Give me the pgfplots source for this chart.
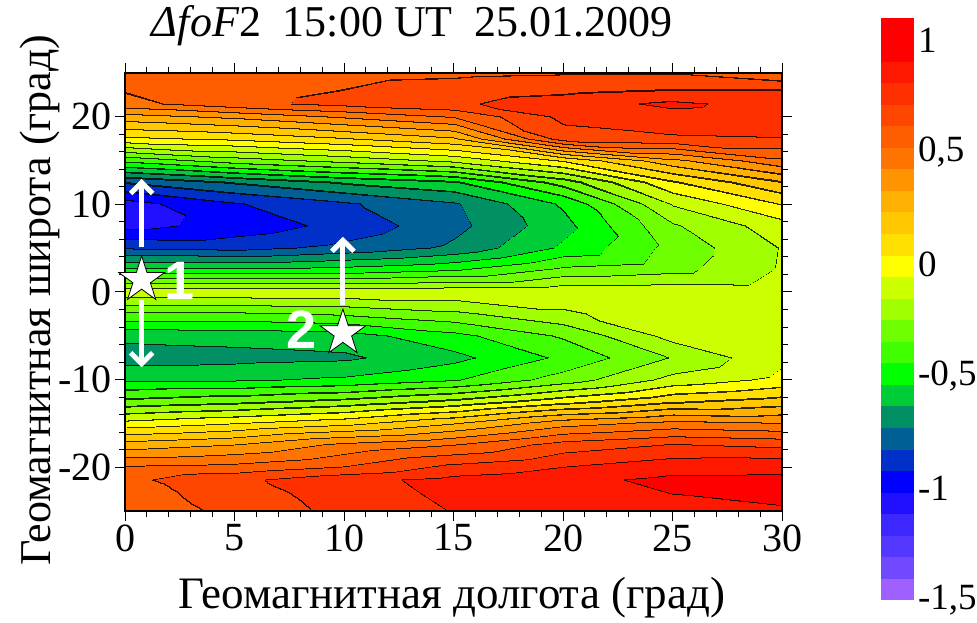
\documentclass[border=0pt]{standalone}
\usepackage{fontspec}
\setmainfont{Liberation Serif}
\newfontfamily\arialfont{Liberation Sans}
\usepackage{pgfplots}
\pgfplotsset{compat=1.18}
\usepackage{pgfplotstable}
\usetikzlibrary{arrows.meta}

\pgfdeclareplotmark{fivestar}{%
  \pgfpathmoveto{\pgfpointpolar{90}{\pgfplotmarksize}}%
  \pgfpathlineto{\pgfpointpolar{126}{0.382\pgfplotmarksize}}%
  \pgfpathlineto{\pgfpointpolar{162}{\pgfplotmarksize}}%
  \pgfpathlineto{\pgfpointpolar{198}{0.382\pgfplotmarksize}}%
  \pgfpathlineto{\pgfpointpolar{234}{\pgfplotmarksize}}%
  \pgfpathlineto{\pgfpointpolar{270}{0.382\pgfplotmarksize}}%
  \pgfpathlineto{\pgfpointpolar{306}{\pgfplotmarksize}}%
  \pgfpathlineto{\pgfpointpolar{342}{0.382\pgfplotmarksize}}%
  \pgfpathlineto{\pgfpointpolar{18}{\pgfplotmarksize}}%
  \pgfpathlineto{\pgfpointpolar{54}{0.382\pgfplotmarksize}}%
  \pgfpathclose
  \pgfusepathqfillstroke
}

\pgfplotsset{
 colormap={foF}{
  rgb255=(160,96,255) rgb255=(112,72,255) rgb255=(84,56,255) rgb255=(60,40,255) rgb255=(32,16,255)
  rgb255=(0,0,255) rgb255=(0,48,200) rgb255=(0,96,150) rgb255=(0,144,100) rgb255=(0,204,56)
  rgb255=(0,255,0) rgb255=(64,255,0) rgb255=(112,255,0) rgb255=(160,255,0) rgb255=(204,255,0)
  rgb255=(255,255,0) rgb255=(255,224,0) rgb255=(255,200,0) rgb255=(255,176,0) rgb255=(255,148,0)
  rgb255=(255,116,0) rgb255=(255,94,0) rgb255=(255,70,0) rgb255=(255,48,0) rgb255=(255,24,0)
  rgb255=(255,0,0) rgb255=(255,0,0)
 },
 colormap={bands}{
  gray=(0) gray=(1) gray=(0) gray=(1) gray=(0) gray=(1) gray=(0) gray=(1) gray=(0) gray=(1)
  gray=(0) gray=(1) gray=(0) gray=(1) gray=(0) gray=(1) gray=(0) gray=(1) gray=(0) gray=(1)
  gray=(0) gray=(1) gray=(0) gray=(1) gray=(0) gray=(1) gray=(1)
 },
}

% x y f  (x varies fastest, 7 columns, 23 rows)
\pgfplotstableread{
x y f
0 -25 0.55
5 -25 0.645
10 -25 0.745
15 -25 0.815
20 -25 0.84
25 -25 0.875
30 -25 0.89
0 -23 0.58
5 -23 0.66
10 -23 0.77
15 -23 0.83
20 -23 0.86
25 -23 0.91
30 -23 0.95
0 -21.5 0.595
5 -21.5 0.69
10 -21.5 0.78
15 -21.5 0.84
20 -21.5 0.88
25 -21.5 0.93
30 -21.5 0.93
0 -20 0.53
5 -20 0.55
10 -20 0.62
15 -20 0.74
20 -20 0.81
25 -20 0.87
30 -20 0.88
0 -17.5 0.28
5 -17.5 0.33
10 -17.5 0.45
15 -17.5 0.52
20 -17.5 0.66
25 -17.5 0.72
30 -17.5 0.69
0 -15 -0.03
5 -15 0.03
10 -15 0.10
15 -15 0.22
20 -15 0.38
25 -15 0.45
30 -15 0.42
0 -12.5 -0.32
5 -12.5 -0.28
10 -12.5 -0.22
15 -12.5 -0.13
20 -12.5 0.00
25 -12.5 0.12
30 -12.5 0.18
0 -10 -0.55
5 -10 -0.55
10 -10 -0.52
15 -10 -0.45
20 -10 -0.30
25 -10 -0.12
30 -10 -0.03
0 -7.5 -0.68
5 -7.5 -0.665
10 -7.5 -0.65
15 -7.5 -0.565
20 -7.5 -0.42
25 -7.5 -0.24
30 -7.5 -0.075
0 -5 -0.61
5 -5 -0.60
10 -5 -0.58
15 -5 -0.47
20 -5 -0.33
25 -5 -0.115
30 -5 -0.065
0 -2.5 -0.36
5 -2.5 -0.36
10 -2.5 -0.33
15 -2.5 -0.27
20 -2.5 -0.17
25 -2.5 -0.08
30 -2.5 -0.06
0 0 -0.08
5 0 -0.08
10 0 -0.08
15 0 -0.08
20 0 -0.08
25 0 -0.08
30 0 -0.095
0 2.5 -0.52
5 2.5 -0.52
10 2.5 -0.50
15 2.5 -0.45
20 2.5 -0.32
25 2.5 -0.28
30 2.5 -0.14
0 5 -0.84
5 5 -0.86
10 5 -0.80
15 5 -0.71
20 5 -0.52
25 5 -0.31
30 5 -0.145
0 7.5 -1.05
5 7.5 -0.985
10 7.5 -0.89
15 7.5 -0.76
20 7.5 -0.57
25 7.5 -0.26
30 7.5 -0.095
0 10 -1.06
5 10 -0.93
10 10 -0.84
15 10 -0.74
20 10 -0.52
25 10 -0.14
30 10 0.05
0 12.5 -0.82
5 12.5 -0.72
10 12.5 -0.62
15 12.5 -0.55
20 12.5 -0.30
25 12.5 0.03
30 12.5 0.23
0 15 -0.42
5 15 -0.30
10 15 -0.22
15 15 -0.13
20 15 0.05
25 15 0.30
30 15 0.50
0 17.5 0.02
5 17.5 0.06
10 17.5 0.13
15 17.5 0.22
20 17.5 0.67
25 17.5 0.70
30 17.5 0.71
0 20 0.29
5 20 0.35
10 20 0.44
15 20 0.53
20 20 0.74
25 20 0.78
30 20 0.76
0 21.5 0.49
5 21.5 0.585
10 21.5 0.65
15 21.5 0.698
20 21.5 0.77
25 21.5 0.83
30 21.5 0.77
0 23 0.53
5 23 0.58
10 23 0.62
15 23 0.66
20 23 0.69
25 23 0.72
30 23 0.72
0 25 0.55
5 25 0.57
10 25 0.59
15 25 0.60
20 25 0.61
25 25 0.61
30 25 0.53
}\fofdata

\begin{document}
\begin{tikzpicture}
\useasboundingbox (0,0) rectangle (977bp,623bp);
\begin{axis}[
  at={(125bp,112bp)}, anchor=south west,
  scale only axis, width=657bp, height=438bp,
  xmin=0, xmax=30, ymin=-25, ymax=25,
  xtick={0,5,...,30}, ytick={-20,-10,...,20},
  minor x tick num=4, minor y tick num=4,
  tick align=outside, major tick length=10bp, minor tick length=6bp,
  every tick/.style={black, line width=1bp},
  axis line style={black, line width=1.2bp},
  colormap name=foF, colormap access=piecewise constant,
  point meta min=-1.5, point meta max=1.1,
  tick label style={font=\fontsize{40bp}{44bp}\selectfont},
  /pgf/number format/assume math mode=true,
  axis on top,
  colorbar,
  colorbar style={
    at={(parent axis.north east)}, anchor=north west,
    xshift=90bp, yshift=55bp,
    scale only axis, width=34bp, height=582bp,
    ytick={-1.5,-1,-0.5,0,0.5,1},
    yticklabels={{-1,5},{-1},{-0,5},{0},{0,5},{1}},
    axis line style={draw=none}, major tick length=0pt,
    yticklabel style={font=\fontsize{37bp}{40bp}\selectfont},
  },
]
% band pattern and a shifted copy (difference) give the contour lines
\addplot[surf, shader=interp, mesh/cols=7, colormap name=bands, point meta=\thisrow{f}] table[x=x, y=y] {\fofdata};
\addplot[surf, shader=interp, mesh/cols=7, colormap name=bands, point meta=\thisrow{f}, blend mode=difference] table[x expr=\thisrow{x}+0.03, y expr=\thisrow{y}+0.12] {\fofdata};
\addplot[fill=white, draw=none, blend mode=difference] coordinates {(0,-25) (30,-25) (30,25) (0,25)} -- cycle;
\addplot[fill=black!82, draw=none, blend mode=lighten] coordinates {(0,-25) (30,-25) (30,25) (0,25)} -- cycle;
% coloured field
\addplot[surf, shader=interp, mesh/cols=7, point meta=\thisrow{f}, blend mode=multiply] table[x=x, y=y] {\fofdata};

\addplot[white, line width=5bp, -{Straight Barb[length=11bp, width=22bp]}] coordinates {(0.76,5.1) (0.76,12.9)};
\addplot[white, line width=5bp, -{Straight Barb[length=11bp, width=22bp]}] coordinates {(0.76,-0.9) (0.76,-8.6)};
\addplot[white, line width=5bp, -{Straight Barb[length=11bp, width=22bp]}] coordinates {(9.95,-1.5) (9.95,6.3)};
\addplot[only marks, mark=fivestar, mark size=24bp, mark options={fill=white, draw=black, line width=0.8bp}] coordinates {(0.76,1.37) (9.95,-4.7)};
\node[text=white, font=\arialfont\bfseries\fontsize{54bp}{58bp}\selectfont] at (axis cs:2.5,1.3) {1};
\node[text=white, font=\arialfont\bfseries\fontsize{54bp}{58bp}\selectfont] at (axis cs:8.05,-4.3) {2};
\end{axis}
\node[anchor=base, font=\fontsize{44bp}{48bp}\selectfont] at (412bp,586bp) {{\itshape Δ\kern1bp foF}2\ \ 15:00 UT\ \ 25.01.2009};
\node[anchor=base, font=\fontsize{45bp}{49bp}\selectfont] at (452bp,15bp) {Геомагнитная долгота (град)};
\node[anchor=base, rotate=90, font=\fontsize{44bp}{48bp}\selectfont] at (50bp,323bp) {Геомагнитная широта (град)};
\end{tikzpicture}
\end{document}
